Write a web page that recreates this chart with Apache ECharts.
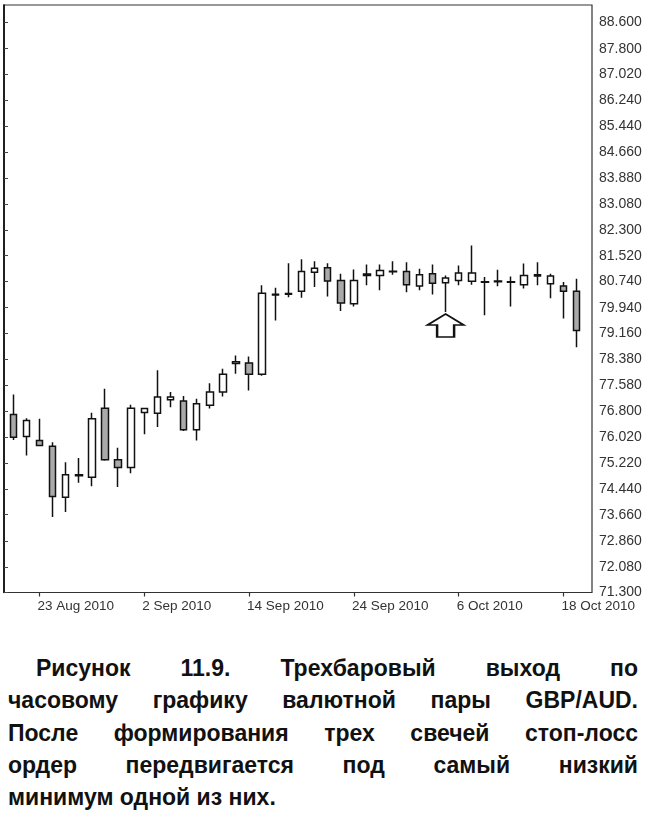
<!DOCTYPE html>
<html>
<head>
<meta charset="utf-8">
<title>GBP/AUD</title>
<script src="https://cdn.jsdelivr.net/npm/echarts@6/dist/echarts.min.js"></script>
<style>
  body { margin: 0; background: #fff; width: 650px; height: 829px; position: relative; overflow: hidden; }
  #chart { position: absolute; left: 0; top: 0; width: 650px; height: 640px; }
  #caption {
    position: absolute; left: 8px; top: 652px; width: 630px;
    font-family: "Liberation Sans", Arial, sans-serif; font-weight: bold;
    font-size: 23px; line-height: 32.3px; color: #111;
  }
  #caption div { text-align: justify; text-align-last: justify; white-space: nowrap; }
  #caption div.first { padding-left: 28px; }
  #caption div.last { text-align-last: left; }
</style>
</head>
<body>
<div id="chart"></div>
<div id="caption">
  <div class="first">Рисунок 11.9. Трехбаровый выход по</div>
  <div>часовому графику валютной пары GBP/AUD.</div>
  <div>После формирования трех свечей стоп-лосс</div>
  <div>ордер передвигается под самый низкий</div>
  <div class="last">минимум одной из них.</div>
</div>
<script>
// данные свечей (дневные бары)
var dates = ['19 Aug 2010', '20 Aug 2010', '23 Aug 2010', '24 Aug 2010', '25 Aug 2010', '26 Aug 2010', '27 Aug 2010',
    '30 Aug 2010', '31 Aug 2010', '1 Sep 2010', '2 Sep 2010', '3 Sep 2010', '6 Sep 2010', '7 Sep 2010', '8 Sep 2010',
    '9 Sep 2010', '10 Sep 2010', '13 Sep 2010', '14 Sep 2010', '15 Sep 2010', '16 Sep 2010', '17 Sep 2010',
    '20 Sep 2010', '21 Sep 2010', '22 Sep 2010', '23 Sep 2010', '24 Sep 2010', '27 Sep 2010', '28 Sep 2010',
    '29 Sep 2010', '30 Sep 2010', '1 Oct 2010', '4 Oct 2010', '5 Oct 2010', '6 Oct 2010', '7 Oct 2010', '8 Oct 2010',
    '11 Oct 2010', '12 Oct 2010', '13 Oct 2010', '14 Oct 2010', '15 Oct 2010', '18 Oct 2010', '19 Oct 2010'];
var opens = [76.70, 76.03, 75.91, 75.74, 74.19, 74.84, 74.80, 76.89, 75.33, 75.09, 76.76,
    76.74, 77.15, 77.11, 76.24, 76.98, 77.38, 78.25, 78.26, 77.92, 80.33, 80.35,
    80.44, 81.02, 81.15, 80.77, 80.06, 80.92, 80.92, 81.03, 81.04, 80.60, 80.97,
    80.70, 80.77, 80.74, 80.71, 80.73, 80.71, 80.64, 80.90, 80.67, 80.60, 80.44];
var closes = [76.01, 76.52, 75.76, 74.21, 74.87, 74.87, 76.57, 75.33, 75.09, 76.89, 76.88,
    77.23, 77.23, 76.24, 77.03, 77.38, 77.92, 78.30, 77.92, 80.38, 80.35, 80.37,
    81.04, 81.14, 80.75, 80.08, 80.77, 80.96, 81.07, 81.05, 80.64, 80.94, 80.68,
    80.84, 80.99, 80.99, 80.73, 80.75, 80.73, 80.92, 80.94, 80.90, 80.44, 79.25];
var lows = [75.93, 75.46, 75.74, 73.59, 73.74, 74.63, 74.52, 75.30, 74.50, 74.92, 76.10,
    76.32, 76.92, 76.20, 75.91, 76.88, 77.25, 77.94, 77.43, 77.88, 79.55, 80.26,
    80.24, 80.57, 80.28, 79.84, 79.98, 80.62, 80.47, 80.94, 80.41, 80.47, 80.34,
    79.81, 80.62, 80.64, 79.71, 80.59, 79.98, 80.52, 80.62, 80.23, 79.61, 78.74];
var highs = [77.31, 76.59, 76.57, 75.86, 75.25, 75.38, 76.75, 77.48, 75.69, 77.00, 76.90,
    78.04, 77.38, 77.26, 77.18, 77.65, 78.09, 78.49, 78.46, 80.62, 80.55, 81.29,
    81.41, 81.35, 81.29, 80.97, 81.10, 81.25, 81.25, 81.35, 81.32, 81.12, 81.25,
    80.92, 81.22, 81.83, 80.87, 81.09, 80.89, 81.28, 81.32, 80.97, 80.72, 80.82];
var dateLabels = ['23 Aug 2010', '2 Sep 2010', '14 Sep 2010', '24 Sep 2010', '6 Oct 2010', '18 Oct 2010'];
var priceTicks = [71.300, 72.080, 72.860, 73.660, 74.440, 75.220, 76.020, 76.800, 77.580, 78.380, 79.160, 79.940,
    80.740, 81.520, 82.300, 83.080, 83.880, 84.660, 85.440, 86.240, 87.020, 87.800, 88.600];
var arrowDate = '5 Oct 2010';
var arrowPrice = 79.40;

var yMin = 71.3, yMax = 89.125;

var myChart = echarts.init(document.getElementById('chart'));
var candles = [];
for (var i = 0; i < dates.length; i++) {
    candles.push([opens[i], closes[i], lows[i], highs[i]]);
}
function isLabeled(index, value) {
    return dateLabels.indexOf(value) >= 0;
}
var font = '"Liberation Sans", Arial, sans-serif';

var option = {
    animation: false,
    grid: [
        // рамка и шкала цен
        { left: 4, right: 58, top: 5, bottom: 47.5, show: true, borderColor: '#333', borderWidth: 1.2, backgroundColor: '#fff' },
        // свечи
        { left: 6.75, right: 66.85, top: 5, bottom: 47.5 }
    ],
    xAxis: [
        { gridIndex: 0, type: 'value', min: 0, max: 1, show: false },
        {
            gridIndex: 1,
            type: 'category',
            data: dates,
            boundaryGap: true,
            axisLine: { show: false },
            axisTick: {
                show: true,
                alignWithLabel: true,
                interval: isLabeled,
                length: 4,
                lineStyle: { color: '#333', width: 1.2 }
            },
            axisLabel: {
                interval: isLabeled,
                align: 'left',
                margin: 7,
                color: '#333',
                fontSize: 13.5,
                fontFamily: font,
                padding: [0, 0, 0, -2]
            },
            splitLine: { show: false }
        }
    ],
    yAxis: [
        {
            gridIndex: 0,
            type: 'value',
            position: 'right',
            min: yMin,
            max: yMax,
            axisLine: { show: true, lineStyle: { color: '#000', width: 1.5 } },
            axisTick: { show: true, length: 4, customValues: priceTicks, lineStyle: { color: '#444' } },
            axisLabel: {
                customValues: priceTicks,
                margin: 7,
                color: '#333',
                fontSize: 14,
                fontFamily: font,
                formatter: function (v) { return v.toFixed(3); }
            },
            splitLine: { show: false }
        },
        { gridIndex: 1, type: 'value', min: yMin, max: yMax, show: false, splitLine: { show: false } }
    ],
    series: [{
        type: 'candlestick',
        xAxisIndex: 1,
        yAxisIndex: 1,
        data: candles,
        barWidth: 7,
        itemStyle: {
            color: '#fff',
            color0: '#aaaaaa',
            borderColor: '#111',
            borderColor0: '#111',
            borderWidth: 1.5
        },
        markPoint: {
            silent: true,
            symbol: 'path://M18,0 L36,11 L26.5,11 L26.5,23 L9.5,23 L9.5,11 L0,11 Z',
            symbolSize: [36, 23],
            label: { show: false },
            itemStyle: { color: '#fff', borderColor: '#111', borderWidth: 2 },
            data: [{ coord: [arrowDate, arrowPrice] }]
        }
    }]
};
myChart.setOption(option);
</script>
</body>
</html>
